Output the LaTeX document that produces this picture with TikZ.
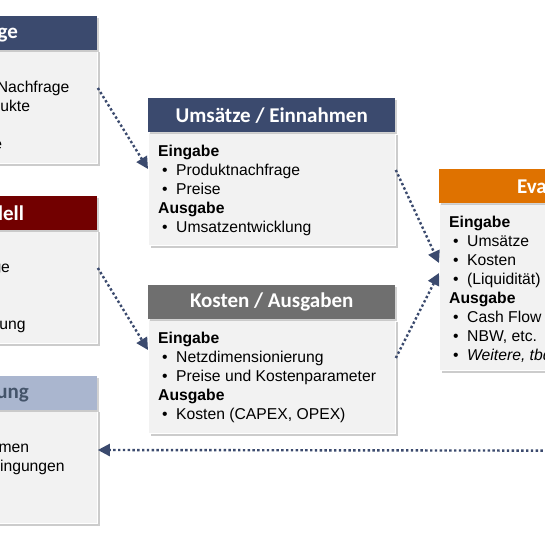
\documentclass[tikz,border=0pt]{standalone}
\usepackage{fontspec}
\setmainfont{Liberation Sans}
\newfontfamily\headfont{Carlito}
\usetikzlibrary{shadows,arrows.meta,calc}
\definecolor{hblue}{HTML}{3B4A6E}
\definecolor{hred}{HTML}{720000}
\definecolor{hlight}{HTML}{AAB6CF}
\definecolor{hlighttxt}{HTML}{44546A}
\definecolor{horange}{HTML}{DF7200}
\definecolor{hgray}{HTML}{6F6F6F}
\definecolor{bodyfill}{HTML}{F2F2F2}
\definecolor{arrowcol}{HTML}{3B4A6E}
\newcommand{\itm}[1]{\makebox[18pt][l]{\hspace{4pt}\textbullet}#1}
\tikzset{
  headbox/.style={rectangle, minimum width=247pt, minimum height=34pt, inner sep=0pt,
    anchor=north west, text=white, font=\headfont\bfseries\fontsize{21}{25}\selectfont,
    drop shadow={shadow xshift=2pt, shadow yshift=-2pt, opacity=0.35}},
  bodybox/.style={rectangle, minimum width=247pt, inner sep=0pt, anchor=north west,
    fill=bodyfill, draw=white, line width=0.8pt,
    drop shadow={shadow xshift=2.5pt, shadow yshift=-2.5pt, opacity=0.4}},
  bodytext/.style={anchor=north west, inner sep=0pt, align=left,
    font=\fontsize{15.7}{19}\selectfont},
  flow/.style={draw=arrowcol, line width=2.4pt, dash pattern=on 2.4pt off 2.4pt,
    -{Triangle[length=12pt,width=12pt]}}
}
\begin{document}
\begin{tikzpicture}[x=1pt,y=-1pt]
\useasboundingbox (0,0) rectangle (545,545);
\clip (0,0) rectangle (545,545);
\fill[white] (0,0) rectangle (545,545);

% left column
\node[bodybox, minimum height=114pt] (b1) at (-150,49) {};
\node[headbox, fill=hblue] (h1) at (-150,16) {Nachfrage};
\node[bodytext] (t1) at ([xshift=10pt,yshift=-13pt]b1.north west)
  {\textbf{Eingabe}\\ \itm{Bestimmung der Nachfrage}\\ \itm{Angebotene Produkte}\\ \textbf{Ausgabe}\\ \itm{Produktnachfrage}};

\node[bodybox, minimum height=114pt] (b2) at (-150,229) {};
\node[headbox, fill=hred] (h2) at (-150,196) {Netzmodell};
\node[bodytext] (t2) at ([xshift=10pt,yshift=-13pt]b2.north west)
  {\textbf{Eingabe}\\ \itm{Verkehrsnachfrage}\\ \itm{Technik}\\ \textbf{Ausgabe}\\ \itm{Netzdimensionierung}};

\node[bodybox, minimum height=114pt] (b3) at (-150,409) {};
\node[headbox, fill=hlight, text=hlighttxt] (h3) at (-150,376) {Optimierung};
\node[bodytext] (t3) at ([xshift=10pt,yshift=-13pt]b3.north west)
  {\textbf{Eingabe}\\ \itm{Regionale Annahmen}\\ \itm{Weitere Randbedingungen}\\ \textbf{Ausgabe}\\ \itm{Szenarien}};

% middle column
\node[bodybox, minimum height=113pt] (b4) at (148,132) {};
\node[headbox, fill=hblue] (h4) at (148,98) {Ums\"atze / Einnahmen};
\node[bodytext] (t4) at ([xshift=10pt,yshift=-13pt]b4.north west)
  {\textbf{Eingabe}\\ \itm{Produktnachfrage}\\ \itm{Preise}\\ \textbf{Ausgabe}\\ \itm{Umsatzentwicklung}};

\node[bodybox, minimum height=114pt] (b5) at (148,319) {};
\node[headbox, fill=hgray] (h5) at (148,285) {Kosten / Ausgaben};
\node[bodytext] (t5) at ([xshift=10pt,yshift=-13pt]b5.north west)
  {\textbf{Eingabe}\\ \itm{Netzdimensionierung}\\ \itm{Preise und Kostenparameter}\\ \textbf{Ausgabe}\\ \itm{Kosten (CAPEX, OPEX)}};

% right column
\node[bodybox, minimum height=167pt] (b6) at (439,203) {};
\node[headbox, fill=horange] (h6) at (439,169) {Evaluation};
\node[bodytext] (t6) at ([xshift=10pt,yshift=-13pt]b6.north west)
  {\textbf{Eingabe}\\ \itm{Ums\"atze}\\ \itm{Kosten}\\ \itm{(Liquidit\"at)}\\ \textbf{Ausgabe}\\ \itm{Cash Flow ...}\\ \itm{NBW, etc.}\\ \itm{\textit{Weitere, tbd}}};

% connectors
\coordinate (a1s) at ([yshift=-39pt]b1.north east);
\coordinate (a1e) at ([yshift=-37pt]b4.north west);
\draw[flow] (a1s) -- (a1e);
\coordinate (a2s) at ([yshift=-39pt]b2.north east);
\coordinate (a2e) at ([yshift=-31pt]b5.north west);
\draw[flow] (a2s) -- (a2e);
\coordinate (a3s) at ([yshift=-38pt]b4.north east);
\coordinate (a3e) at ([yshift=-60pt]b6.north west);
\draw[flow] (a3s) -- (a3e);
\coordinate (a4s) at ([yshift=-39pt]b5.north east);
\coordinate (a4e) at ([yshift=-70pt]b6.north west);
\draw[flow] (a4s) -- (a4e);
\coordinate (a5s) at ([yshift=-80pt]b6.south east);
\coordinate (a5e) at ([yshift=-41pt]b3.north east);
\draw[flow] (a5s) -- (a5e);
\end{tikzpicture}
\end{document}
